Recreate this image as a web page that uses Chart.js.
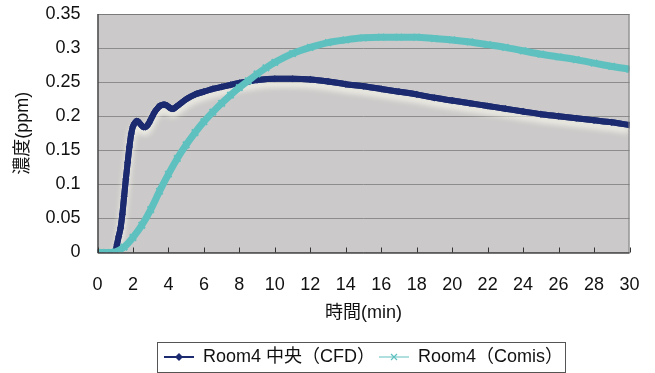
<!DOCTYPE html>
<html><head><meta charset="utf-8">
<script src="https://cdn.jsdelivr.net/npm/chart.js@4.4.1/dist/chart.umd.min.js"></script>
<style>html,body{margin:0;padding:0;background:#fff;}canvas{display:block;}</style>
</head><body>
<canvas id="c" width="655" height="373"></canvas>
<script>
const cfdTimes  = [0,0.5,1.0,1.1,1.2,1.3,1.4,1.5,1.6,1.7,1.8,1.9,2.0,2.1,2.2,2.3,2.4,2.5,2.6,2.7,2.8,2.9,3.0,3.1,3.2,3.3,3.4,3.5,3.6,3.7,3.8,3.9,4.0,4.1,4.2,4.3,4.4,4.5,4.6,4.8,5.0,5.5,6.0,6.5,7.0,7.5,8.0,8.5,9,10,11,12,13,14,15,16,17,18,19,20,21,22,23,24,25,26,27,28,29,30];
const cfdValues = [0,0,0.001,0.012,0.024,0.036,0.056,0.082,0.108,0.132,0.155,0.174,0.185,0.190,0.193,0.192,0.189,0.186,0.184,0.184,0.186,0.190,0.195,0.200,0.205,0.209,0.212,0.215,0.216,0.217,0.217,0.216,0.214,0.212,0.211,0.211,0.213,0.215,0.217,0.221,0.225,0.232,0.236,0.240,0.243,0.246,0.249,0.251,0.253,0.255,0.255,0.254,0.251,0.247,0.244,0.240,0.236,0.232,0.227,0.223,0.219,0.215,0.211,0.207,0.203,0.200,0.197,0.194,0.191,0.187];
const comisTimes  = [0,0.5,1,1.5,2,2.5,3,3.5,4,4.5,5,5.5,6,6.5,7,7.5,8,8.5,9,9.5,10,11,12,13,14,15,16,17,18,19,20,21,22,23,24,25,26,27,28,29,30];
const comisValues = [0,0,0.001,0.008,0.022,0.040,0.063,0.090,0.115,0.138,0.158,0.176,0.192,0.206,0.219,0.231,0.242,0.252,0.262,0.271,0.279,0.292,0.301,0.308,0.312,0.315,0.316,0.316,0.316,0.314,0.312,0.309,0.305,0.301,0.296,0.291,0.287,0.283,0.278,0.273,0.269];
const seriesLabels = ['Room4 中央（CFD）', 'Room4（Comis）'];
const xTitle = '時間(min)';
const yTitle = '濃度(ppm)';

const NAVY = '#1c2b70';
const CYAN = '#5ec1bf';
const FONT = '"Liberation Sans", "Noto Sans CJK JP", Arial, sans-serif';

function makeIcon(kind, color) {
  const c = document.createElement('canvas');
  c.width = 30; c.height = 10;
  const g = c.getContext('2d');
  g.strokeStyle = color; g.fillStyle = color;
  g.lineWidth = kind === 'diamond' ? 2 : 1;
  g.beginPath(); g.moveTo(0, 5); g.lineTo(30, 5); g.stroke();
  if (kind === 'diamond') {
    g.beginPath(); g.moveTo(15, 1); g.lineTo(19, 5); g.lineTo(15, 9); g.lineTo(11, 5); g.closePath(); g.fill();
  } else {
    g.lineWidth = 1.2;
    g.beginPath(); g.moveTo(12, 2); g.lineTo(18, 8); g.moveTo(18, 2); g.lineTo(12, 8); g.stroke();
  }
  return c;
}
const legendIcons = [makeIcon('diamond', NAVY), makeIcon('x', CYAN)];

const decor = {
  id: 'decor',
  beforeDraw(chart) {
    const {ctx, chartArea: a} = chart;
    ctx.save();
    ctx.fillStyle = '#cbc9c9';
    ctx.fillRect(a.left, a.top, a.right - a.left, a.bottom - a.top);
    ctx.restore();
  },
  beforeDatasetsDraw(chart) {
    const {ctx, chartArea: a} = chart;
    const meta = chart.getDatasetMeta(0);
    ctx.save();
    ctx.beginPath();
    ctx.rect(a.left, a.top, a.right - a.left, a.bottom - a.top);
    ctx.clip();
    ctx.shadowColor = 'rgba(248,248,236,0.9)';
    ctx.shadowOffsetY = 5;
    ctx.shadowBlur = 6;
    meta.dataset.draw(ctx, a);
    ctx.restore();
  },
  afterDraw(chart) {
    const {ctx, chartArea: a} = chart;
    const xs = chart.scales.x;
    ctx.save();
    ctx.lineWidth = 1;
    ctx.strokeStyle = '#7a7a7a';
    ctx.strokeRect(a.left + 0.5, a.top + 0.5, a.right - a.left - 1, a.bottom - a.top);
    ctx.strokeStyle = '#333';
    ctx.beginPath();
    ctx.moveTo(a.left + 0.5, a.top); ctx.lineTo(a.left + 0.5, a.bottom + 0.5);
    ctx.lineTo(a.right, a.bottom + 0.5);
    ctx.stroke();
    ctx.beginPath();
    xs.ticks.forEach(t => {
      const px = Math.round(xs.getPixelForValue(t.value)) + 0.5;
      ctx.moveTo(px, a.bottom); ctx.lineTo(px, a.bottom - 5);
    });
    ctx.stroke();
    const hb = chart.legend.legendHitBoxes;
    if (hb && hb.length) {
      const l = Math.min(...hb.map(h => h.left)) - 7;
      const r = Math.max(...hb.map(h => h.left + h.width)) + 2;
      const t = hb[0].top - 6;
      const b = hb[0].top + hb[0].height + 6;
      ctx.strokeStyle = '#555';
      ctx.strokeRect(Math.round(l) + 0.5, Math.round(t) + 0.5, Math.round(r - l), Math.round(b - t));
    }
    ctx.restore();
  }
};

new Chart(document.getElementById('c'), {
  type: 'line',
  data: {
    datasets: [
      {
        label: seriesLabels[0],
        data: cfdTimes.map((t, i) => ({x: t, y: cfdValues[i]})),
        borderColor: NAVY, backgroundColor: NAVY,
        borderWidth: 6, pointStyle: 'rectRot', pointRadius: 3.6,
        pointBorderWidth: 0, pointBackgroundColor: NAVY,
        cubicInterpolationMode: 'monotone', order: 1
      },
      {
        label: seriesLabels[1],
        data: comisTimes.map((t, i) => ({x: t, y: comisValues[i]})),
        borderColor: CYAN, backgroundColor: CYAN,
        borderWidth: 7, pointStyle: 'crossRot', pointRadius: 4.5,
        pointBorderWidth: 2, pointBorderColor: CYAN,
        cubicInterpolationMode: 'monotone', order: 0
      }
    ]
  },
  options: {
    responsive: false, animation: false, devicePixelRatio: 1,
    layout: {padding: {top: 14, right: 25.5, bottom: -3, left: 0}},
    plugins: {
      tooltip: {enabled: false},
      legend: {
        position: 'bottom', fullSize: false,
        labels: {
          usePointStyle: true, pointStyleWidth: 30, padding: 4,
          color: '#111', font: {family: FONT, size: 18},
          generateLabels: chart => chart.data.datasets.map((ds, i) => ({
            text: ds.label, pointStyle: legendIcons[i], rotation: 0,
            fillStyle: 'rgba(0,0,0,0)', strokeStyle: 'rgba(0,0,0,0)', lineWidth: 0,
            hidden: false, datasetIndex: i, fontColor: '#111'
          }))
        }
      }
    },
    scales: {
      x: {
        type: 'linear', min: 0, max: 30,
        afterFit: s => { s.height = 91.5; s.paddingLeft = 0; s.paddingRight = 0; },
        grid: {display: false, drawTicks: false},
        border: {display: false},
        ticks: {stepSize: 2, padding: 22, color: '#111', font: {family: FONT, size: 18}, maxRotation: 0, autoSkip: false},
        title: {display: true, text: xTitle, color: '#111', font: {family: FONT, size: 18}, padding: {top: 0, bottom: 20}}
      },
      y: {
        min: 0, max: 0.35,
        afterFit: s => { s.width = 97.5; s.paddingTop = 0; s.paddingBottom = 0; },
        grid: {color: '#8c8c8c', lineWidth: 1, drawTicks: false},
        border: {display: false},
        ticks: {stepSize: 0.05, padding: 17, color: '#111', font: {family: FONT, size: 18},
          callback: v => String(+v.toFixed(2))},
        title: {display: true, text: yTitle, color: '#111', font: {family: FONT, size: 18}, padding: {top: 12, bottom: 0}}
      }
    }
  },
  plugins: [decor]
});
</script>
</body></html>
